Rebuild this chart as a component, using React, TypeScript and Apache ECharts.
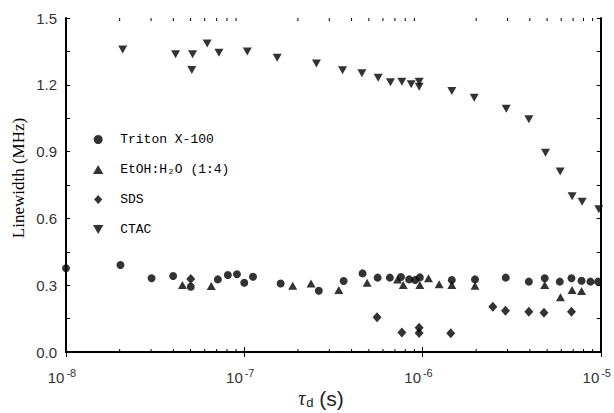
import React, { useEffect, useRef } from "react";
import * as echarts from "echarts";

// ---- data (tau_d in seconds, linewidth in MHz) ----
const tritonTau = [1.0e-8, 2.02e-8, 3.02e-8, 3.99e-8, 5.01e-8, 7.11e-8, 8.09e-8, 9.1e-8, 1.0e-7, 1.12e-7, 1.6e-7, 2.62e-7, 3.61e-7, 4.61e-7, 5.6e-7, 6.56e-7, 7.57e-7, 8.41e-7, 9.1e-7, 9.66e-7, 1.46e-6, 1.97e-6, 2.93e-6, 3.95e-6, 4.85e-6, 5.89e-6, 6.85e-6, 7.8e-6, 8.75e-6, 9.66e-6];
const tritonWidth = [0.376, 0.391, 0.331, 0.341, 0.293, 0.326, 0.346, 0.349, 0.311, 0.338, 0.308, 0.275, 0.319, 0.353, 0.334, 0.334, 0.337, 0.326, 0.323, 0.335, 0.323, 0.326, 0.334, 0.316, 0.331, 0.316, 0.331, 0.32, 0.316, 0.316];

const etohTau = [4.5e-8, 6.53e-8, 1.87e-7, 2.37e-7, 3.39e-7, 4.89e-7, 7.24e-7, 7.8e-7, 9.66e-7, 1.08e-6, 1.24e-6, 1.46e-6, 1.97e-6, 4.85e-6, 5.94e-6, 6.9e-6, 7.8e-6];
const etohWidth = [0.301, 0.296, 0.298, 0.308, 0.278, 0.311, 0.326, 0.301, 0.301, 0.331, 0.304, 0.301, 0.298, 0.301, 0.246, 0.278, 0.274];

const sdsTau = [5.01e-8, 5.56e-7, 7.66e-7, 9.57e-7, 9.57e-7, 1.44e-6, 2.48e-6, 2.92e-6, 3.95e-6, 4.8e-6, 6.85e-6];
const sdsWidth = [0.328, 0.156, 0.088, 0.109, 0.085, 0.084, 0.203, 0.185, 0.181, 0.176, 0.181];

const ctacTau = [2.08e-8, 4.12e-8, 5.13e-8, 5.08e-8, 6.2e-8, 7.21e-8, 1.04e-7, 1.53e-7, 2.54e-7, 3.56e-7, 4.57e-7, 5.64e-7, 6.61e-7, 7.66e-7, 8.64e-7, 9.58e-7, 9.58e-7, 1.46e-6, 1.95e-6, 2.95e-6, 3.95e-6, 4.9e-6, 5.92e-6, 6.91e-6, 7.86e-6, 9.75e-6];
const ctacWidth = [1.359, 1.337, 1.337, 1.267, 1.386, 1.344, 1.349, 1.322, 1.296, 1.265, 1.252, 1.232, 1.211, 1.214, 1.202, 1.214, 1.191, 1.172, 1.142, 1.093, 1.045, 0.895, 0.811, 0.7, 0.675, 0.641];

const seriesNames = ["Triton X-100", "EtOH:H\u2082O (1:4)", "SDS", "CTAC"];

const X_MIN = 1e-8;
const X_MAX = 1e-5;
const Y_MIN = 0;
const Y_MAX = 1.5;

const pair = (xs: number[], ys: number[]) => xs.map((x, i) => [x, ys[i]]);

const minorTickValues: number[] = [];
for (const n of [-8, -7, -6]) {
  for (let k = 2; k <= 9; k++) minorTickValues.push(k * Math.pow(10, n));
}

const UP_TRI = "path://M5,0L10,8.7L0,8.7Z";
const DOWN_TRI = "path://M0,0L10,0L5,8.7Z";
const DIAMOND = "path://M5,0L10,5.5L5,11L0,5.5Z";

export default function App() {
  const ref = useRef<HTMLDivElement>(null);

  useEffect(() => {
    if (!ref.current) return;
    const chart = echarts.init(ref.current, null, { renderer: "svg" });
    const black = "#000";
    const labelFont = "Liberation Sans";

    const baseX = {
      type: "log" as const,
      logBase: 10,
      min: X_MIN,
      max: X_MAX,
      splitLine: { show: false },
      axisLine: { show: true, lineStyle: { color: black, width: 2 } },
      axisTick: { show: true, inside: true, length: 5, lineStyle: { color: black, width: 1 } },
    };
    const baseY = {
      type: "value" as const,
      min: Y_MIN,
      max: Y_MAX,
      interval: 0.3,
      splitLine: { show: false },
      axisLine: { show: true, lineStyle: { color: black, width: 2 } },
      axisTick: { show: true, inside: true, length: 4, lineStyle: { color: black, width: 1 } },
      minorTick: { show: true, splitNumber: 2, length: 4, lineStyle: { color: black, width: 1 } },
    };

    chart.setOption({
      animation: false,
      backgroundColor: "#fff",
      grid: { left: 66, right: 12, top: 18, bottom: 61, containLabel: false },
      xAxis: [
        {
          ...baseX,
          position: "bottom",
          axisLabel: {
            show: true,
            margin: 12,
            formatter: (v: number) => {
              const e = Math.round(Math.log10(v));
              return `{b|10}{s|${e}}`;
            },
            rich: {
              b: { fontFamily: labelFont, fontSize: 15, color: "#333", padding: [6, 0, 0, 0] },
              s: { fontFamily: labelFont, fontSize: 11, color: "#333", padding: [0, 8, 4, 2] },
            },
          },
        },
        { ...baseX, position: "top", axisLabel: { show: false } },
      ],
      yAxis: [
        {
          ...baseY,
          position: "left",
          axisLabel: {
            show: true,
            margin: 9,
            fontFamily: labelFont,
            fontSize: 15,
            color: "#333",
            formatter: (v: number) => v.toFixed(1),
          },
        },
        { ...baseY, position: "right", axisLabel: { show: false } },
      ],
      legend: {
        show: true,
        orient: "vertical",
        left: 88,
        top: 128,
        itemGap: 17,
        itemWidth: 34,
        itemHeight: 9,
        data: seriesNames,
        textStyle: { fontFamily: "Liberation Mono", fontSize: 13, color: black },
        selectedMode: false,
      },
      graphic: [
        {
          type: "text",
          x: 18,
          y: 178,
          rotation: Math.PI / 2,
          style: {
            text: "Linewidth (MHz)",
            fontFamily: "Liberation Serif",
            fontSize: 17,
            fill: black,
            align: "center",
            verticalAlign: "middle",
          },
        },
        {
          type: "text",
          x: 321,
          y: 398,
          style: {
            text: "{t|\u03c4}{d|d}{p| (s)}",
            align: "center",
            verticalAlign: "middle",
            rich: {
              t: { fontFamily: "Liberation Serif", fontStyle: "italic", fontSize: 20, fill: "#222" },
              d: { fontFamily: labelFont, fontSize: 13, fill: "#222", padding: [8, 0, 0, 1] },
              p: { fontFamily: labelFont, fontSize: 21, fill: "#222" },
            },
          },
        },
      ],
      series: [
        {
          name: seriesNames[0],
          type: "scatter",
          symbol: "circle",
          symbolSize: 8,
          itemStyle: { color: black },
          data: pair(tritonTau, tritonWidth),
        },
        {
          name: seriesNames[1],
          type: "scatter",
          symbol: UP_TRI,
          symbolSize: [9, 8],
          itemStyle: { color: black },
          data: pair(etohTau, etohWidth),
        },
        {
          name: seriesNames[2],
          type: "scatter",
          symbol: DIAMOND,
          symbolSize: [9, 10],
          itemStyle: { color: black },
          data: pair(sdsTau, sdsWidth),
        },
        {
          name: seriesNames[3],
          type: "scatter",
          symbol: DOWN_TRI,
          symbolSize: [9, 8],
          itemStyle: { color: black },
          data: pair(ctacTau, ctacWidth),
        },
        {
          name: "minorTicks",
          type: "custom",
          silent: true,
          clip: false,
          z: 10,
          data: minorTickValues.map((v) => [v, Y_MIN]),
          encode: { x: 0, y: 1 },
          renderItem: (_params: any, api: any) => {
            const v = api.value(0);
            const b = api.coord([v, Y_MIN]);
            const t = api.coord([v, Y_MAX]);
            const st = { stroke: black, lineWidth: 1 };
            return {
              type: "group",
              children: [
                { type: "line", shape: { x1: b[0], y1: b[1], x2: b[0], y2: b[1] - 3 }, style: st },
                { type: "line", shape: { x1: t[0], y1: t[1], x2: t[0], y2: t[1] + 3 }, style: st },
              ],
            };
          },
        },
      ],
    });

    return () => chart.dispose();
  }, []);

  return (
    <div
      ref={ref}
      style={{ position: "fixed", left: 0, top: 0, width: 614, height: 413, background: "#fff" }}
    />
  );
}
